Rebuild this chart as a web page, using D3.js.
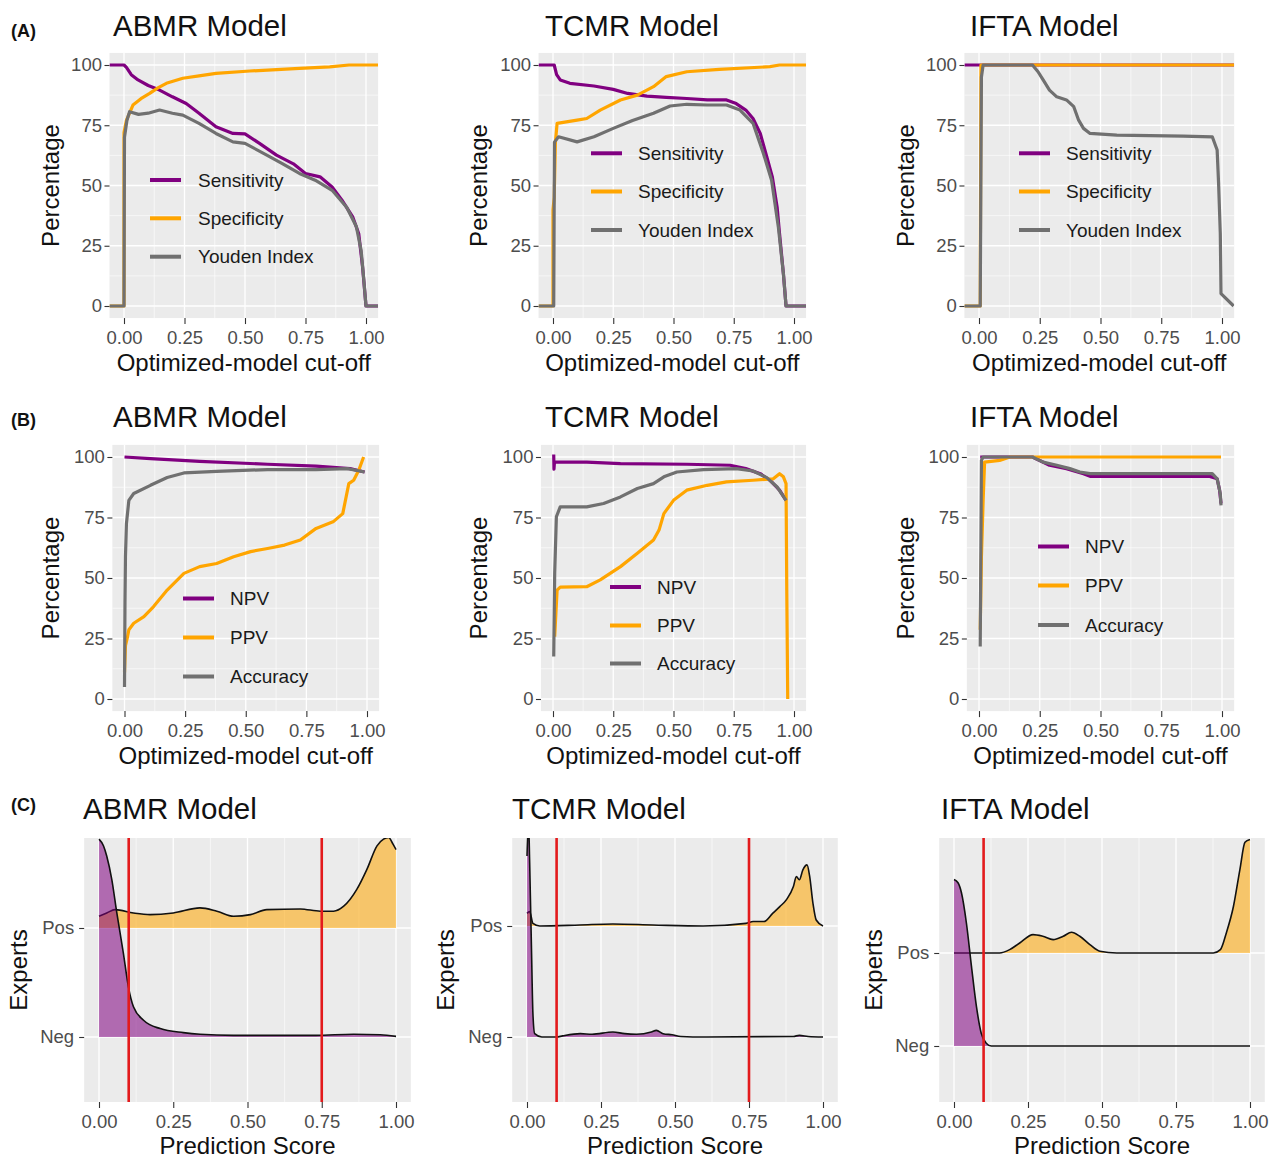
<!DOCTYPE html>
<html><head><meta charset="utf-8">
<script src="https://cdn.jsdelivr.net/npm/d3@7"></script>
<style>body{margin:0;background:#fff} text{font-family:"Liberation Sans", Arial, sans-serif}</style>
</head><body><svg id="c" width="1277" height="1164"></svg>
<script>
// ---------- tick labels / categories ----------
const xTicks = [0, 0.25, 0.5, 0.75, 1];
const xTickLabels = ["0.00", "0.25", "0.50", "0.75", "1.00"];
const xMinor = [0.125, 0.375, 0.625, 0.875];
const yTicks = [0, 25, 50, 75, 100];
const yMinor = [12.5, 37.5, 62.5, 87.5];
const ridgeCats = ["Neg", "Pos"];
const modelNames = ["ABMR Model", "TCMR Model", "IFTA Model"];
const rowTags = ["(A)", "(B)", "(C)"];
const legendA = ["Sensitivity", "Specificity", "Youden Index"];
const legendB = ["NPV", "PPV", "Accuracy"];

// ---------- Row A: sensitivity / specificity / Youden (cut-off, %) ----------
const abmrSens = [[-0.06,100],[0.0,100],[0.01,99],[0.03,96],[0.058,93.8],[0.1,91.5],[0.147,89.6],[0.2,86.8],[0.257,84],[0.31,80],[0.38,74.4],[0.45,71.6],[0.5,71.4],[0.56,67.5],[0.63,62.6],[0.7,59],[0.75,55],[0.81,53.6],[0.86,49.4],[0.9,44],[0.945,37],[0.97,30],[0.986,16],[1.0,0],[1.05,0]];
const abmrSpec = [[-0.06,0],[0.0,0],[0.0,72],[0.01,77],[0.037,83.4],[0.07,86],[0.106,88.2],[0.14,90.5],[0.175,92.4],[0.243,94.5],[0.31,95.5],[0.38,96.5],[0.52,97.5],[0.725,98.6],[0.85,99.2],[0.93,100],[1.05,100]];
const abmrYouden = [[-0.06,0],[0.0,0],[0.002,70],[0.012,77],[0.023,80.6],[0.06,79.5],[0.1,80],[0.147,81.3],[0.2,80],[0.243,79.2],[0.31,75.8],[0.38,71.6],[0.45,68.1],[0.5,67.5],[0.59,62.6],[0.656,59],[0.725,55],[0.79,52.2],[0.86,48],[0.92,41],[0.96,33],[0.98,23],[0.99,12],[1.0,0],[1.05,0]];

const tcmrSens = [[-0.06,100],[0.005,100],[0.015,96],[0.03,93.8],[0.07,92.4],[0.17,91.3],[0.25,89.9],[0.31,88.2],[0.39,87.1],[0.47,86.6],[0.555,86.1],[0.64,85.5],[0.72,85.5],[0.76,84],[0.8,81.3],[0.83,77.8],[0.86,71.6],[0.887,62],[0.91,53.6],[0.93,41],[0.94,30],[0.956,13.4],[0.967,0],[1.05,0]];
const tcmrSpec = [[-0.06,0],[0.0,0],[0.0,40],[0.005,45],[0.01,68],[0.017,75.8],[0.1,77.1],[0.14,77.8],[0.196,81.3],[0.28,85.5],[0.35,87.5],[0.417,91],[0.47,95.2],[0.555,97.2],[0.69,98.2],[0.9,99.3],[0.94,100],[1.05,100]];
const tcmrYouden = [[-0.06,0],[0.003,0],[0.006,68],[0.023,70.2],[0.1,68.1],[0.17,70.2],[0.25,73.7],[0.33,77],[0.417,80],[0.486,83],[0.555,83.7],[0.64,83.4],[0.72,83.4],[0.776,81.3],[0.83,75.8],[0.873,63.3],[0.907,52.2],[0.935,32.8],[0.956,13.4],[0.967,0],[1.05,0]];

const iftaSens = [[-0.06,100],[1.05,100]];
const iftaSpec = [[-0.06,0],[0.005,0],[0.008,100],[1.05,100]];
const iftaYouden = [[-0.06,0],[0.005,0],[0.01,95],[0.017,100],[0.22,100],[0.243,97.2],[0.264,93.8],[0.29,89.6],[0.32,86.8],[0.36,85.5],[0.39,82.7],[0.41,77.1],[0.43,73.7],[0.457,71.6],[0.567,70.9],[0.84,70.5],[0.96,70.2],[0.98,64.7],[0.986,50.8],[0.993,30],[0.996,5.1],[1.048,0]];

// ---------- Row B: NPV / PPV / Accuracy ----------
const abmrNpv = [[0,100],[0.107,99.3],[0.31,98.2],[0.59,97],[0.79,96.2],[0.93,95.2],[0.99,93.8]];
const abmrPpv = [[0,11],[0.004,22],[0.011,25],[0.018,28.6],[0.038,31.3],[0.08,34],[0.12,38.2],[0.176,45],[0.245,51.9],[0.31,54.7],[0.38,56],[0.45,58.8],[0.52,60.9],[0.59,62.2],[0.66,63.6],[0.725,65.7],[0.79,70.5],[0.86,73.2],[0.9,76.6],[0.925,89],[0.945,90.4],[0.966,94.5],[0.986,100]];
const abmrAcc = [[0,5],[0.002,40],[0.004,58.8],[0.008,72.5],[0.018,82.1],[0.038,84.9],[0.107,88.3],[0.176,91.5],[0.245,93.4],[0.38,94.1],[0.59,94.8],[0.79,94.8],[0.92,95.2],[0.99,93.8]];

const tcmrNpv = [[0.003,101],[0.004,95],[0.006,97.9],[0.14,97.9],[0.28,97.3],[0.555,97],[0.735,96.6],[0.8,95.2],[0.86,93.1],[0.9,90.4],[0.94,86.3],[0.967,82.1]];
const tcmrPpv = [[0.007,25.8],[0.017,45],[0.03,46.2],[0.14,46.4],[0.196,49.2],[0.28,54.7],[0.35,60.2],[0.417,65.7],[0.44,69.8],[0.46,76.6],[0.5,82.1],[0.555,86.3],[0.64,88.3],[0.72,89.7],[0.83,90.4],[0.914,91],[0.94,93.1],[0.956,91.8],[0.967,89],[0.97,45],[0.974,0]];
const tcmrAcc = [[0.003,17.6],[0.007,52],[0.014,75.3],[0.03,79.4],[0.14,79.4],[0.21,80.8],[0.28,83.5],[0.35,87],[0.417,89],[0.46,91.8],[0.514,93.8],[0.624,94.8],[0.76,95.2],[0.83,94.2],[0.887,91.5],[0.93,87.6],[0.967,82.1]];

const iftaNpv = [[0.005,100],[0.22,100],[0.29,96.6],[0.36,95.2],[0.43,93.1],[0.457,92],[0.95,92],[0.98,91],[0.99,86.3],[0.996,80.8]];
const iftaPpv = [[0.005,28.6],[0.01,58.8],[0.017,82],[0.023,97.9],[0.085,98.6],[0.127,100],[0.996,100]];
const iftaAcc = [[0.005,21.7],[0.01,98.6],[0.017,100],[0.22,100],[0.264,97.9],[0.32,96.6],[0.374,95.2],[0.415,93.8],[0.457,93.1],[0.96,93.1],[0.98,91],[0.993,84.9],[0.996,80]];

// ---------- Row C: ridgeline densities (score, height in category units) ----------
const abmrNegDensity = [[0,1.815],[0.015,1.754],[0.026,1.66],[0.043,1.446],[0.06,1.138],[0.082,0.77],[0.099,0.46],[0.116,0.277],[0.15,0.154],[0.206,0.077],[0.284,0.04],[0.34,0.025],[0.453,0.015],[0.565,0.015],[0.73,0.015],[0.857,0.025],[0.947,0.02],[1.0,0.006]];
const abmrPosDensity = [[0,0.108],[0.026,0.138],[0.054,0.169],[0.116,0.138],[0.172,0.123],[0.25,0.138],[0.34,0.185],[0.397,0.154],[0.453,0.108],[0.51,0.123],[0.565,0.169],[0.678,0.175],[0.745,0.154],[0.79,0.154],[0.824,0.2],[0.868,0.354],[0.902,0.538],[0.936,0.754],[0.958,0.815],[0.975,0.83],[0.99,0.77],[1.0,0.72]];

const tcmrNegDensity = [[0,1.63],[0.005,1.95],[0.009,1.57],[0.015,0.81],[0.02,0.21],[0.026,0.03],[0.05,0],[0.1,0],[0.12,0.01],[0.18,0.03],[0.22,0.025],[0.29,0.045],[0.33,0.03],[0.37,0.025],[0.42,0.045],[0.437,0.06],[0.46,0.03],[0.49,0.02],[0.52,0.005],[0.6,0],[0.9,0.005],[0.92,0.015],[0.95,0.005],[1.0,0]];
const tcmrPosDensity = [[0,0.114],[0.009,0.13],[0.02,0.024],[0.043,0],[0.178,0.009],[0.29,0.018],[0.425,0.009],[0.595,0],[0.74,0.024],[0.764,0.04],[0.8,0.04],[0.83,0.114],[0.854,0.175],[0.876,0.235],[0.9,0.355],[0.91,0.446],[0.92,0.416],[0.932,0.506],[0.946,0.551],[0.955,0.446],[0.966,0.205],[0.977,0.054],[1.0,0]];

const iftaNegDensity = [[0,1.79],[0.0135,1.755],[0.025,1.65],[0.042,1.32],[0.059,0.856],[0.076,0.42],[0.092,0.137],[0.109,0.03],[0.126,0],[1.0,0]];
const iftaPosDensity = [[0,0],[0.154,0],[0.188,0.036],[0.222,0.108],[0.267,0.198],[0.3,0.18],[0.335,0.144],[0.369,0.18],[0.397,0.223],[0.425,0.18],[0.459,0.09],[0.493,0.018],[0.55,0],[0.876,0],[0.9,0.036],[0.92,0.216],[0.944,0.5],[0.966,0.9],[0.983,1.19],[1.0,1.22]];

const abmrCuts = [0.1, 0.75];
const tcmrCuts = [0.1, 0.75];
const iftaCuts = [0.1];

// ---------- styling ----------
const PURPLE = "#800080", ORANGE = "#FFA500", GREY = "#707070";
const PANEL_BG = "#ebebeb", TICK_COL = "#4d4d4d";

const svg = d3.select("#c");
const defs = svg.append("defs");
let clipN = 0;

function drawGrid(g, x, y, L, R, T, B, xMaj, xMin, yMaj, yMin) {
  g.append("rect").attr("x", L).attr("y", T).attr("width", R - L).attr("height", B - T).attr("fill", PANEL_BG);
  xMin.forEach(v => g.append("line").attr("x1", x(v)).attr("x2", x(v)).attr("y1", T).attr("y2", B).attr("stroke", "#fff").attr("stroke-width", 0.6));
  yMin.forEach(v => g.append("line").attr("x1", L).attr("x2", R).attr("y1", y(v)).attr("y2", y(v)).attr("stroke", "#fff").attr("stroke-width", 0.6));
  xMaj.forEach(v => g.append("line").attr("x1", x(v)).attr("x2", x(v)).attr("y1", T).attr("y2", B).attr("stroke", "#fff").attr("stroke-width", 1.3));
  yMaj.forEach(v => g.append("line").attr("x1", L).attr("x2", R).attr("y1", y(v)).attr("y2", y(v)).attr("stroke", "#fff").attr("stroke-width", 1.3));
}

function drawAxes(g, x, y, L, B, yVals, yLabels, yPad) {
  const ax = g.append("g").attr("transform", `translate(0,${B})`)
    .call(d3.axisBottom(x).tickValues(xTicks).tickFormat((d, i) => xTickLabels[i]).tickSize(6).tickPadding(6.5));
  const ay = g.append("g").attr("transform", `translate(${L},0)`)
    .call(d3.axisLeft(y).tickValues(yVals).tickFormat((d, i) => yLabels[i]).tickSize(5).tickPadding(yPad));
  [ax, ay].forEach(a => {
    a.select(".domain").remove();
    a.selectAll(".tick line").attr("stroke", "#333").attr("stroke-width", 1.1);
    a.selectAll(".tick text").attr("fill", TICK_COL).attr("font-size", 18.5).attr("font-family", "Liberation Sans, Arial, sans-serif");
  });
}

function clipFor(L, R, T, B) {
  const id = "clip" + (clipN++);
  defs.append("clipPath").attr("id", id).append("rect").attr("x", L).attr("y", T).attr("width", R - L).attr("height", B - T);
  return id;
}

function titles(cfg, L, R, T, B, yTitle, xTitle) {
  svg.append("text").attr("x", cfg.titleX).attr("y", cfg.titleY).attr("font-size", 29.5).attr("fill", "#111").text(cfg.title);
  if (cfg.tag) svg.append("text").attr("x", 11).attr("y", cfg.tagY).attr("font-size", 18).attr("font-weight", "bold").attr("fill", "#111").text(cfg.tag);
  svg.append("text").attr("transform", `translate(${cfg.yLabX},${(T + B) / 2}) rotate(-90)`).attr("text-anchor", "middle")
    .attr("font-size", 24).attr("fill", "#111").text(yTitle);
  svg.append("text").attr("x", (L + R) / 2).attr("y", cfg.xLabY).attr("text-anchor", "middle").attr("font-size", 24).attr("fill", "#111").text(xTitle);
}

function linePanel(cfg) {
  const x = d3.scaleLinear().domain([0, 1]).range([cfg.x0, cfg.x1]);
  const y = d3.scaleLinear().domain([0, 100]).range([cfg.y0, cfg.y100]);
  const L = x(cfg.xd[0]), R = x(cfg.xd[1]), T = y(105), B = y(-5);
  const g = svg.append("g");
  drawGrid(g, x, y, L, R, T, B, xTicks, xMinor, yTicks, yMinor);
  const cid = clipFor(L, R, T, B);
  const lg = g.append("g").attr("clip-path", `url(#${cid})`);
  const line = d3.line().x(d => x(d[0])).y(d => y(d[1]));
  cfg.series.forEach(s => lg.append("path").attr("d", line(s.data)).attr("fill", "none")
    .attr("stroke", s.color).attr("stroke-width", 3.2).attr("stroke-linejoin", "round"));
  // legend
  cfg.legend.labels.forEach((lab, i) => {
    const ry = cfg.legend.rows[i];
    g.append("line").attr("x1", cfg.legend.keyX).attr("x2", cfg.legend.keyX + 31).attr("y1", ry).attr("y2", ry)
      .attr("stroke", cfg.legend.colors[i]).attr("stroke-width", 4);
    g.append("text").attr("x", cfg.legend.textX).attr("y", ry).attr("dy", "0.35em").attr("font-size", 19).attr("fill", "#1a1a1a").text(lab);
  });
  drawAxes(g, x, y, L, B, yTicks, yTicks.map(String), 2.5);
  titles(cfg, L, R, T, B, "Percentage", "Optimized-model cut-off");
}

function ridgePanel(cfg) {
  const x = d3.scaleLinear().domain([0, 1]).range([cfg.x0, cfg.x1]);
  const y = d3.scaleLinear().domain([1, 2]).range([cfg.negY, cfg.posY]);
  const L = x(-0.05), R = x(1.05), T = 838, B = 1102;
  const g = svg.append("g");
  drawGrid(g, x, y, L, R, T, B, xTicks, xMinor, [1, 2], []);
  const cid = clipFor(L, R, T, B);
  const rg = g.append("g").attr("clip-path", `url(#${cid})`);
  const groups = [
    { base: 2, data: cfg.pos, fill: ORANGE },
    { base: 1, data: cfg.neg, fill: PURPLE }
  ];
  groups.forEach(gr => {
    const area = d3.area().curve(d3.curveMonotoneX).x(d => x(d[0])).y0(y(gr.base)).y1(d => y(gr.base + d[1]));
    const line = d3.line().curve(d3.curveMonotoneX).x(d => x(d[0])).y(d => y(gr.base + d[1]));
    rg.append("path").attr("d", area(gr.data)).attr("fill", gr.fill).attr("fill-opacity", 0.55);
    rg.append("path").attr("d", line(gr.data)).attr("fill", "none").attr("stroke", "#111").attr("stroke-width", 1.6);
  });
  cfg.cuts.forEach(c => rg.append("line").attr("x1", x(c)).attr("x2", x(c)).attr("y1", T).attr("y2", B)
    .attr("stroke", "#e31a1c").attr("stroke-width", 2.6));
  drawAxes(g, x, y, L, B, [1, 2], ridgeCats, 5);
  titles(cfg, L, R, T, B, "Experts", "Prediction Score");
}

// ---------- layout (pixel geometry only) ----------
const colA = [
  { x0: 124, x1: 366, titleX: 113, yLabX: 59 },
  { x0: 553, x1: 794, titleX: 545, yLabX: 487 },
  { x0: 979, x1: 1222, titleX: 970, yLabX: 914 }
];

const rowAData = [
  [abmrSens, abmrSpec, abmrYouden],
  [tcmrSens, tcmrSpec, tcmrYouden],
  [iftaSens, iftaSpec, iftaYouden]
];
const rowALegend = [
  { keyX: 150, textX: 198, rows: [180, 218.3, 256.7] },
  { keyX: 591, textX: 638, rows: [153.3, 191.5, 230] },
  { keyX: 1019, textX: 1066, rows: [153.3, 191.5, 230] }
];
rowAData.forEach((d, i) => {
  linePanel({
    x0: colA[i].x0, x1: colA[i].x1, xd: [-0.06, 1.05], y0: 306, y100: 65,
    title: modelNames[i], titleX: colA[i].titleX, titleY: 35.5, tag: i === 0 ? rowTags[0] : null, tagY: 37,
    yLabX: colA[i].yLabX, xLabY: 370.5,
    series: [{ data: d[0], color: PURPLE }, { data: d[1], color: ORANGE }, { data: d[2], color: GREY }],
    legend: { ...rowALegend[i], labels: legendA, colors: [PURPLE, ORANGE, GREY] }
  });
});

const rowBData = [
  [abmrNpv, abmrPpv, abmrAcc],
  [tcmrNpv, tcmrPpv, tcmrAcc],
  [iftaNpv, iftaPpv, iftaAcc]
];
const rowBLegend = [
  { keyX: 183, textX: 230, rows: [598.5, 637.5, 676.5] },
  { keyX: 610, textX: 657, rows: [587, 625.5, 663.5] },
  { keyX: 1038, textX: 1085, rows: [546.5, 585.5, 625] }
];
rowBData.forEach((d, i) => {
  linePanel({
    x0: colA[i].x0 + (i === 0 ? 0.5 : 0), x1: colA[i].x1 + (i === 0 ? 1 : 0), xd: [-0.05, 1.05], y0: 699, y100: 457,
    title: modelNames[i], titleX: colA[i].titleX, titleY: 427, tag: i === 0 ? rowTags[1] : null, tagY: 426,
    yLabX: colA[i].yLabX, xLabY: 763.5,
    series: [{ data: d[0], color: PURPLE }, { data: d[1], color: ORANGE }, { data: d[2], color: GREY }],
    legend: { ...rowBLegend[i], labels: legendB, colors: [PURPLE, ORANGE, GREY] }
  });
});

const rowC = [
  { x0: 99, x1: 396, posY: 928, negY: 1037, titleX: 83, yLabX: 26.5, pos: abmrPosDensity, neg: abmrNegDensity, cuts: abmrCuts },
  { x0: 527, x1: 823, posY: 926, negY: 1037, titleX: 512, yLabX: 453.5, pos: tcmrPosDensity, neg: tcmrNegDensity, cuts: tcmrCuts },
  { x0: 954, x1: 1250, posY: 953, negY: 1046, titleX: 941, yLabX: 881.5, pos: iftaPosDensity, neg: iftaNegDensity, cuts: iftaCuts }
];
rowC.forEach((c, i) => {
  ridgePanel({ ...c, title: modelNames[i], titleY: 818.5, tag: i === 0 ? rowTags[2] : null, tagY: 811, xLabY: 1154 });
});
</script>
</body></html>
